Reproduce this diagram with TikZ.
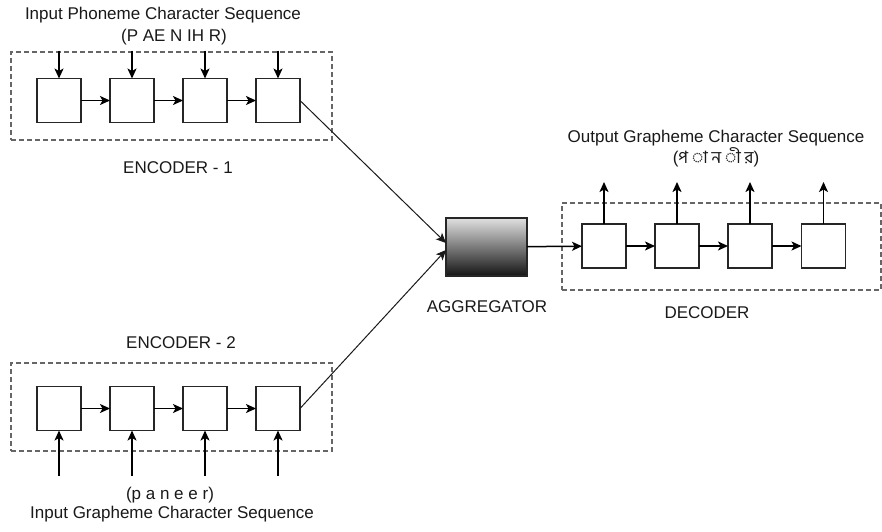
\documentclass[tikz,border=0pt]{standalone}
\usepackage{fontspec}
\setmainfont{Liberation Sans}
\newfontfamily\bnfont[Script=Bengali]{Hind Siliguri}
\usetikzlibrary{arrows.meta,calc}
\begin{document}
\begin{tikzpicture}[x=1pt,y=-1pt,
  cell/.style={draw=black!85, line width=1.6pt, fill=white, minimum width=44pt, minimum height=44pt, inner sep=0pt, outer sep=0pt},
  grp/.style={draw=black!60, line width=1.7pt, dash pattern=on 5pt off 3pt, inner sep=0pt, outer sep=0pt},
  lbl/.style={font=\fontsize{17}{20}\selectfont, text=black!90, inner sep=0pt},
  arr/.style={-{Stealth[length=10pt,width=9pt,inset=2.5pt]}, line width=1.5pt, draw=black},
  link/.style={-{Stealth[length=10pt,width=9pt,inset=2.5pt]}, line width=1pt, draw=black!90},
  agg/.style={draw=black!85, line width=1.6pt, top color=black!12, bottom color=black!92, minimum width=81pt, minimum height=58pt, inner sep=0pt, outer sep=0pt},
]
\useasboundingbox (0,0) rectangle (882,531);
% group frames
\node[grp, minimum width=321pt, minimum height=88pt] (g1) at (171.5,96) {};
\node[grp, minimum width=321pt, minimum height=88pt] (g2) at (171.5,407) {};
\node[grp, minimum width=319pt, minimum height=87pt] (g3) at (721.5,246.5) {};
% encoder 1
\node[cell] (e11) at (59,100.5) {};
\node[cell] (e12) at (132,100.5) {};
\node[cell] (e13) at (205,100.5) {};
\node[cell] (e14) at (278,100.5) {};
% encoder 2
\node[cell] (e21) at (59,408.5) {};
\node[cell] (e22) at (132,408.5) {};
\node[cell] (e23) at (205,408.5) {};
\node[cell] (e24) at (278,408.5) {};
% decoder
\node[cell] (d1) at (604,246) {};
\node[cell] (d2) at (677,246) {};
\node[cell] (d3) at (750,246) {};
\node[cell] (d4) at (823.5,246) {};
% aggregator
\node[agg] (ag) at (486.5,247) {};
% chains
\draw[arr] (e11) -- (e12);
\draw[arr] (e12) -- (e13);
\draw[arr] (e13) -- (e14);
\draw[arr] (e21) -- (e22);
\draw[arr] (e22) -- (e23);
\draw[arr] (e23) -- (e24);
\draw[arr] (d1) -- (d2);
\draw[arr] (d2) -- (d3);
\draw[arr] (d3) -- (d4);
\draw[arr] (ag) -- (d1);
% inputs / outputs
\foreach \n in {e11,e12,e13,e14}{
  \coordinate (in-\n) at ($(\n.north)+(0,-28)$);
  \draw[arr] (in-\n) -- (\n.north);
}
\foreach \n in {e21,e22,e23,e24}{
  \coordinate (in-\n) at ($(\n.south)+(0,45)$);
  \draw[arr] (in-\n) -- (\n.south);
}
\foreach \n in {d1,d2,d3,d4}{
  \coordinate (out-\n) at ($(\n.north)+(0,-42)$);
  \draw[arr] (\n.north) -- (out-\n);
}
% links to aggregator
\coordinate (ag1) at ($(ag.west)+(0,-4)$);
\coordinate (ag2) at ($(ag.west)+(0,3)$);
\draw[link] (e14.east) -- (ag1);
\draw[link] (e24.east) -- (ag2);
% labels
\node[lbl] (t1) at (163,15) {Input Phoneme Character Sequence};
\node[lbl] (t2) at (174,37) {(P AE N IH R)};
\node[lbl] (t3) at (178,168) {ENCODER - 1};
\node[lbl] (t4) at (181,343) {ENCODER - 2};
\node[lbl] (t5) at (170,495) {(p a n e e r)};
\node[lbl] (t6) at (172,514) {Input Grapheme Character Sequence};
\node[lbl] (t7) at (487,307) {AGGREGATOR};
\node[lbl] (t8) at (707,313) {DECODER};
\node[lbl] (t9) at (716,138) {Output Grapheme Character Sequence};
\node[lbl] (t10) at (716,157) {(\bnfont প ◌া ন ◌ী র\rmfamily)};
\end{tikzpicture}
\end{document}
